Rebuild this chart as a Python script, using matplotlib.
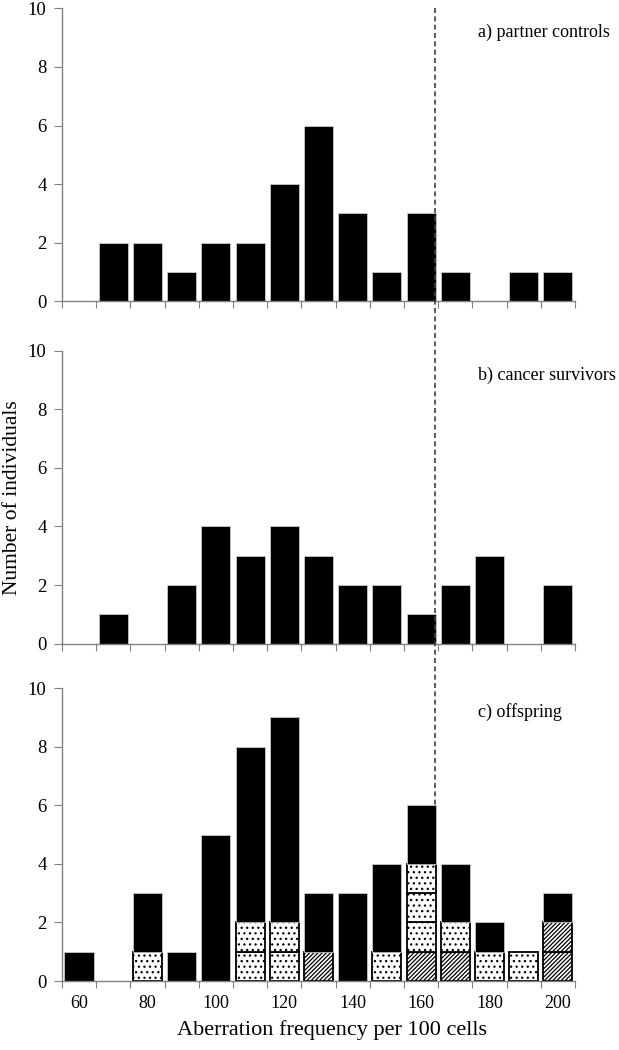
import numpy as np
import matplotlib
matplotlib.use("Agg")
import matplotlib.pyplot as plt
from matplotlib.lines import Line2D
from matplotlib.transforms import blended_transform_factory

plt.rcParams['font.family'] = ['Liberation Serif', 'DejaVu Serif']
plt.rcParams['hatch.linewidth'] = 0.9

bins = [60, 70, 80, 90, 100, 110, 120, 130, 140, 150, 160, 170, 180, 190, 200]
partner = [0, 2, 2, 1, 2, 2, 4, 6, 3, 1, 3, 1, 0, 1, 1]
survivors = [0, 1, 0, 2, 4, 3, 4, 3, 2, 2, 1, 2, 3, 0, 2]
offspring = [1, 0, 3, 1, 5, 8, 9, 3, 3, 4, 6, 4, 2, 1, 3]
off_hatched = [0, 0, 0, 0, 0, 0, 0, 1, 0, 0, 1, 1, 0, 0, 2]
off_dotted = [0, 0, 1, 0, 0, 2, 2, 0, 0, 1, 3, 1, 1, 1, 0]
titles = ["a) partner controls", "b) cancer survivors", "c) offspring"]

x = np.arange(len(bins))
w = 0.85
cut = 10.42  # dashed threshold line position (in bin units)

fig = plt.figure(figsize=(6.19, 10.5), dpi=100)
left, width, height = 0.1, 0.829, 0.279
bottoms = [0.713, 0.387, 0.0657]
axes = [fig.add_axes([left, b, width, height]) for b in bottoms]

def style(ax, labels):
    ax.set_xlim(-0.5, len(bins) - 0.5)
    ax.set_ylim(0, 10)
    ax.set_yticks([0, 2, 4, 6, 8, 10])
    ax.set_xticks(np.arange(-0.5, len(bins) + 0.5, 1))
    ax.set_xticklabels([])
    ax.tick_params(axis='x', which='major', length=5, color='#808080', direction='out')
    ax.tick_params(axis='y', length=6, color='#808080', labelsize=13.5, pad=5)
    for s in ['top', 'right']:
        ax.spines[s].set_visible(False)
    for s in ['left', 'bottom']:
        ax.spines[s].set_color('#808080')
        ax.spines[s].set_linewidth(1.0)
    if labels:
        ax.set_xticks(x[::2], minor=True)
        ax.set_xticklabels([str(b) for b in bins[::2]], minor=True)
        ax.tick_params(axis='x', which='minor', length=0, labelsize=13, pad=10)

for ax, data, t in zip(axes[:2], [partner, survivors], titles[:2]):
    ax.bar(x, data, width=w, color='black', edgecolor='#c8c8c8', linewidth=0.6)
    style(ax, False)

ax = axes[2]
black = np.array(offspring) - np.array(off_hatched) - np.array(off_dotted)
for i in range(len(bins)):
    level = 0
    for k in range(off_hatched[i]):
        ax.bar(x[i], 1, bottom=level, width=w, color='white', edgecolor='black',
               hatch='/' * 8, linewidth=1.3)
        level += 1
    for k in range(off_dotted[i]):
        ax.bar(x[i], 1, bottom=level, width=w, color='white', edgecolor='black',
               hatch='...', linewidth=1.3)
        level += 1
    if black[i] > 0:
        ax.bar(x[i], black[i], bottom=level, width=w, color='black',
               edgecolor='#c8c8c8', linewidth=0.6)
style(ax, True)

for ax, t in zip(axes, titles):
    ax.text(0.772, 0.917, t, transform=blended_transform_factory(fig.transFigure, ax.transAxes),
            fontsize=13, ha='left', va='center')

# dashed threshold line running through all panels
tr = blended_transform_factory(axes[0].transData, fig.transFigure)
y_top = bottoms[0] + height
y_end = bottoms[2] + height * offspring[10] / 10
fig.add_artist(Line2D([cut, cut], [y_top, y_end], transform=tr, color='#404040',
                      linestyle=(0, (3, 2)), linewidth=1.2))

fig.text(0.021, 0.526, "Number of individuals", rotation=90, fontsize=15.5,
         ha='center', va='center')
fig.text(0.536, 0.019, "Aberration frequency per 100 cells", fontsize=16,
         ha='center', va='center')

fig.savefig("out.png", dpi=100)
